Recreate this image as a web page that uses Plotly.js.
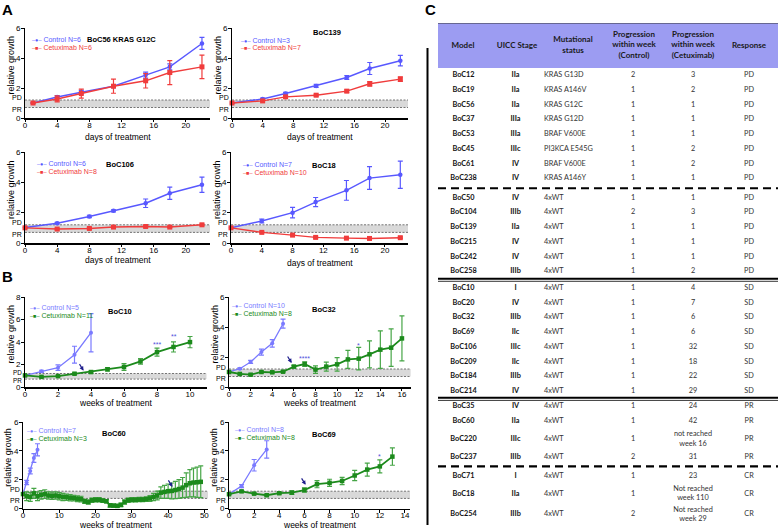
<!DOCTYPE html>
<html><head><meta charset="utf-8">
<script src="https://cdn.plot.ly/plotly-3.0.1.min.js"></script>
<style>html,body{margin:0;padding:0;background:#fff}#chart{width:778px;height:529px}</style>
</head><body><div id="chart"></div>
<script>
// ---------------- DATA ----------------
// Panel A
const days56 = [1, 4, 7, 11, 15, 18, 22];
const ctrl56 = [1.0, 1.4, 1.72, 2.12, 2.86, 3.41, 4.97];
const ctrl56Err = [0.03, 0.1, 0.12, 0.1, 0.2, 0.2, 0.4];
const cetux56 = [1.0, 1.27, 1.63, 2.12, 2.48, 3.03, 3.41];
const cetux56Err = [0.05, 0.2, 0.3, 0.47, 0.48, 0.8, 0.78];

const days139 = [0, 4, 7, 11, 15, 18, 22];
const ctrl139 = [1.0, 1.27, 1.63, 2.14, 2.7, 3.3, 3.82];
const ctrl139Err = [0.03, 0.06, 0.08, 0.1, 0.12, 0.4, 0.35];
const cetux139 = [1.0, 1.14, 1.41, 1.52, 1.79, 2.28, 2.59];
const cetux139Err = [0.03, 0.05, 0.08, 0.06, 0.08, 0.15, 0.15];

const days106 = [0, 4, 8, 11, 15, 18, 22];
const ctrl106 = [1.02, 1.3, 1.75, 2.12, 2.62, 3.28, 3.84];
const ctrl106Err = [0.03, 0.06, 0.08, 0.07, 0.28, 0.4, 0.5];
const cetux106 = [1.0, 0.92, 0.96, 1.05, 1.09, 1.05, 1.2];
const cetux106Err = [0.03, 0.05, 0.06, 0.06, 0.05, 0.04, 0.05];

const days18 = [0, 4, 8, 11, 15, 18, 22];
const ctrl18 = [1.0, 1.45, 2.0, 2.7, 3.47, 4.28, 4.5];
const ctrl18Err = [0.03, 0.12, 0.35, 0.3, 0.65, 0.75, 0.9];
const cetux18 = [1.0, 0.7, 0.52, 0.37, 0.32, 0.3, 0.35];
const cetux18Err = [0.02, 0.04, 0.04, 0.05, 0.04, 0.05, 0.05];

// Panel B
const wkCtrl10 = [0, 1, 2, 3, 4];
const ctrl10 = [1.03, 1.39, 1.72, 2.87, 4.83];
const ctrl10Err = [0.05, 0.1, 0.25, 0.75, 1.7];
const wkCetux10 = [0, 1, 2, 3, 4, 5, 6, 7, 8, 9, 10];
const cetux10 = [1.03, 0.9, 0.97, 1.18, 1.33, 1.57, 1.78, 2.27, 3.1, 3.56, 3.99];
const cetux10Err = [0.05, 0.05, 0.05, 0.08, 0.08, 0.15, 0.3, 0.25, 0.35, 0.45, 0.5];

const wkCtrl32 = [0, 1, 2, 3, 4, 5];
const ctrl32 = [1.0, 1.22, 1.67, 2.33, 2.91, 4.22];
const ctrl32Err = [0.03, 0.05, 0.1, 0.2, 0.25, 0.3];
const wkCetux32 = [0, 1, 2, 3, 4, 5, 6, 7, 8, 9, 10, 11, 12, 13, 14, 15, 16];
const cetux32 = [1.0, 0.87, 0.82, 1.0, 0.98, 1.02, 1.36, 1.53, 1.16, 1.36, 1.51, 1.84, 1.89, 2.18, 2.49, 2.62, 3.24];
const cetux32Err = [0.03, 0.04, 0.05, 0.06, 0.06, 0.05, 0.08, 0.15, 0.25, 0.3, 0.45, 0.6, 0.75, 0.9, 1.25, 1.25, 1.5];

const wkCtrl60 = [0, 1, 2, 3, 4];
const ctrl60 = [1.0, 1.8, 2.6, 3.5, 4.07];
const ctrl60Err = [0.05, 0.15, 0.2, 0.3, 0.42];
const wkCetux60 = [0, 1, 2, 3, 4, 5, 6, 7, 8, 9, 10, 11, 12, 13, 14, 15, 16, 17, 18, 19, 20, 21, 22, 23, 24, 25, 26, 27, 28, 29, 30, 31, 32, 33, 34, 35, 36, 37, 38, 39, 40, 41, 42, 43, 44, 45, 46, 47, 48, 49];
const cetux60 = [1.0, 0.85, 0.8, 1.05, 0.85, 0.95, 1.0, 0.9, 0.88, 0.9, 0.85, 0.8, 0.78, 0.75, 0.72, 0.68, 0.65, 0.5, 0.45, 0.58, 0.6, 0.6, 0.55, 0.5, 0.22, 0.2, 0.18, 0.25, 0.45, 0.58, 0.6, 0.6, 0.62, 0.62, 0.65, 0.7, 0.8, 0.9, 1.1, 1.15, 1.2, 1.22, 1.28, 1.35, 1.45, 1.62, 1.75, 1.8, 1.82, 1.85];
const cetux60Err = [0.05, 0.3, 0.3, 0.35, 0.3, 0.3, 0.3, 0.25, 0.25, 0.25, 0.25, 0.25, 0.22, 0.22, 0.2, 0.2, 0.2, 0.15, 0.15, 0.15, 0.15, 0.15, 0.12, 0.12, 0.12, 0.1, 0.1, 0.12, 0.15, 0.15, 0.15, 0.15, 0.15, 0.15, 0.15, 0.2, 0.25, 0.3, 0.4, 0.45, 0.5, 0.55, 0.6, 0.65, 0.7, 0.85, 0.95, 1.0, 1.05, 1.1];

const wkCtrl69 = [0, 1, 2, 3];
const ctrl69 = [1.0, 1.55, 3.0, 4.1];
const ctrl69Err = [0.03, 0.1, 0.4, 0.6];
const wkCetux69 = [0, 1, 2, 3, 4, 5, 6, 7, 8, 9, 10, 11, 12, 13];
const cetux69 = [0.99, 1.19, 1.03, 0.92, 1.06, 1.1, 1.28, 1.69, 1.78, 1.91, 2.29, 2.7, 2.92, 3.6];
const cetux69Err = [0.04, 0.05, 0.05, 0.06, 0.06, 0.12, 0.15, 0.25, 0.25, 0.25, 0.35, 0.45, 0.45, 0.6];

// RECIST thresholds
const PD_LEVEL = 1.2;
const PR_LEVEL = 0.7;

// significance marks and treatment-start arrows (panel B)
const sig10X = [8, 9], sig10Y = [3.8, 4.5], sig10Text = ['***', '**'];
const sig32X = [7, 12], sig32Y = [1.87, 2.8], sig32Text = ['****', '*'];
const sig69X = [12], sig69Y = [3.6], sig69Text = ['*'];
const arrowPanel = [5, 6, 7, 8];
const arrowX = [3.55, 5.8, 41.2, 6.1];
const arrowY = [1.45, 1.6, 1.5, 1.64];

// Panel C table
const tableHeaders = ['Model', 'UICC Stage', 'Mutational<br>status', 'Progression<br>within week<br>(Control)', 'Progression<br>within week<br>(Cetuximab)', 'Response'];
const models = ['BoC12','BoC19','BoC56','BoC37','BoC53','BoC45','BoC61','BoC238','BoC50','BoC104','BoC139','BoC215','BoC242','BoC258','BoC10','BoC20','BoC32','BoC69','BoC106','BoC209','BoC184','BoC214','BoC35','BoC60','BoC220','BoC237','BoC71','BoC18','BoC254'];
const stages = ['IIa','IIa','IIa','IIIa','IIIa','IIIc','IV','IV','IV','IIIb','IIa','IV','IV','IIIb','I','IV','IIIb','IIc','IIIc','IIc','IIIb','IV','IV','IIa','IIIc','IIIb','I','IIa','IIIb'];
const mutations = ['KRAS G13D','KRAS A146V','KRAS G12C','KRAS G12D','BRAF V600E','PI3KCA E545G','BRAF V600E','KRAS A146Y','4xWT','4xWT','4xWT','4xWT','4xWT','4xWT','4xWT','4xWT','4xWT','4xWT','4xWT','4xWT','4xWT','4xWT','4xWT','4xWT','4xWT','4xWT','4xWT','4xWT','4xWT'];
const progControl = ['2','1','1','1','1','1','1','1','1','2','1','1','1','1','1','1','1','1','1','1','1','1','1','1','1','2','1','1','2'];
const progCetux = ['3','2','1','1','1','2','2','1','1','3','1','1','1','2','4','7','6','6','32','18','22','29','24','42','not reached<br>week 16','31','23','Not reached<br>week 110','Not reached<br>week 29'];
const responses = ['PD','PD','PD','PD','PD','PD','PD','PD','PD','PD','PD','PD','PD','PD','SD','SD','SD','SD','SD','SD','SD','SD','PR','PR','PR','PR','CR','CR','CR'];
const groupEnds = [7, 13, 21, 25];
const groupSepStyle = ['dash', 'double', 'double', 'dash'];

// ---------------- LAYOUT HELPERS ----------------
const W = 778, H = 529;
const FONT = 'Liberation Sans, Arial, sans-serif';
const TFONT = 'Lato, Liberation Sans, sans-serif';
const BLUE_A = 'rgb(88,88,255)', RED_A = 'rgb(240,60,60)';
const BLUE_B = 'rgb(122,122,255)', GREEN_B = 'rgb(28,138,28)', GREEN_ERR = 'rgb(70,165,70)';

const panels = [
  {n:1, px:[25,210], py:[28,118], xr:[0,23], xd:4, yr:[0,6], xt:'days of treatment', xty:137,
   title:'BoC56 KRAS G12C', tpos:[85,39.5], leg:[30,39,47.2], ca:'A',
   cx:days56, cy:ctrl56, ce:ctrl56Err, tx:days56, ty:cetux56, te:cetux56Err, cl:'Control N=6', tl:'Cetuximab N=6'},
  {n:2, px:[232,408], py:[28,118], xr:[0,23], xd:4, yr:[0,6], xt:'days of treatment', xty:137,
   title:'BoC139', tpos:[311,32.7], leg:[239,40.3,48], ca:'A',
   cx:days139, cy:ctrl139, ce:ctrl139Err, tx:days139, ty:cetux139, te:cetux139Err, cl:'Control N=3', tl:'Cetuximab N=7'},
  {n:3, px:[25,210], py:[152,243], xr:[0,23], xd:4, yr:[0,6], xt:'days of treatment', xty:259.5,
   title:'BoC106', tpos:[104,164.3], leg:[35,163.8,171.6], ca:'A',
   cx:days106, cy:ctrl106, ce:ctrl106Err, tx:days106, ty:cetux106, te:cetux106Err, cl:'Control N=6', tl:'Cetuximab N=8'},
  {n:4, px:[231,408], py:[152,243], xr:[0,23], xd:4, yr:[0,6], xt:'days of treatment', xty:262.5,
   title:'BoC18', tpos:[310,165], leg:[240.5,164.3,172.1], ca:'A',
   cx:days18, cy:ctrl18, ce:ctrl18Err, tx:days18, ty:cetux18, te:cetux18Err, cl:'Control N=7', tl:'Cetuximab N=10'},
  {n:5, px:[25,206.5], py:[297,387], xr:[0,11], xd:2, yr:[0,8], xt:'weeks of treatment', xty:402.5,
   title:'BoC10', tpos:[106,311.7], leg:[28,307.6,315.4], ca:'B',
   cx:wkCtrl10, cy:ctrl10, ce:ctrl10Err, tx:wkCetux10, ty:cetux10, te:cetux10Err, cl:'Control N=5', tl:'Cetuximab N=11'},
  {n:6, px:[229,410.6], py:[297,387], xr:[0,16.8], xd:2, yr:[0,6], xt:'weeks of treatment', xty:402.5,
   title:'BoC32', tpos:[310,309.3], leg:[230,305.6,313.6], ca:'B',
   cx:wkCtrl32, cy:ctrl32, ce:ctrl32Err, tx:wkCetux32, ty:cetux32, te:cetux32Err, cl:'Control N=10', tl:'Cetuximab N=8'},
  {n:7, px:[23,208], py:[422,508.5], xr:[0,51], xd:10, yr:[0,6], xt:'weeks of treatment', xty:525,
   title:'BoC60', tpos:[100,433.3], leg:[25,430.2,438.4], ca:'B',
   cx:wkCtrl60, cy:ctrl60, ce:ctrl60Err, tx:wkCetux60, ty:cetux60, te:cetux60Err, cl:'Control N=7', tl:'Cetuximab N=3'},
  {n:8, px:[229,410], py:[422,508.5], xr:[0,14.4], xd:2, yr:[0,6], xt:'weeks of treatment', xty:525,
   title:'BoC69', tpos:[310,434], leg:[233,429.4,437.6], ca:'B',
   cx:wkCtrl69, cy:ctrl69, ce:ctrl69Err, tx:wkCetux69, ty:cetux69, te:cetux69Err, cl:'Control N=8', tl:'Cetuximab N=8'}
];

const traces = [];
const layout = {
  width: W, height: H, margin: {l:0, r:0, t:0, b:0},
  paper_bgcolor: '#fff', plot_bgcolor: 'rgba(0,0,0,0)',
  showlegend: false, font: {family: FONT, color: '#000'},
  shapes: [], annotations: []
};
const px2x = p => p / W;
const py2y = p => 1 - p / H;
const ann = o => layout.annotations.push(Object.assign({showarrow:false}, o));

panels.forEach(p => {
  const xa = 'xaxis' + p.n, ya = 'yaxis' + p.n;
  const xr = 'x' + p.n, yr = 'y' + p.n;
  const isA = p.ca === 'A';
  const cCol = isA ? BLUE_A : BLUE_B;
  const tCol = isA ? RED_A : GREEN_B;
  const tErr = isA ? RED_A : GREEN_ERR;
  const pxPerUnit = (p.py[1] - p.py[0]) / (p.yr[1] - p.yr[0]);
  const bandPx = (PD_LEVEL - PR_LEVEL) * pxPerUnit;
  const tight = bandPx < 7;
  layout[xa] = {
    domain: [px2x(p.px[0]), px2x(p.px[1])], range: p.xr, anchor: yr,
    tickmode: 'linear', tick0: 0, dtick: p.xd, ticks: 'outside', ticklen: 2.5, tickwidth: 1, tickcolor: '#000',
    ticklabelstandoff: -4,
    showline: true, linecolor: '#000', linewidth: 1.5, showgrid: false, zeroline: false,
    tickfont: {family: FONT, size: 8, color: '#000'}, automargin: false, fixedrange: true
  };
  layout[ya] = {
    domain: [py2y(p.py[1]), py2y(p.py[0])], range: p.yr, anchor: xr,
    tickmode: 'linear', tick0: 0, dtick: 2, ticks: 'outside', ticklen: 2.5, tickwidth: 1, tickcolor: '#000',
    ticklabelstandoff: -1,
    showline: true, linecolor: '#000', linewidth: 1.5, showgrid: false, zeroline: false,
    tickfont: {family: FONT, size: 8, color: '#000'}, automargin: false, fixedrange: true
  };
  // axis titles
  ann({xref:'paper', yref:'paper', x:px2x((p.px[0] + p.px[1]) / 2), y:py2y(p.xty), xanchor:'center', yanchor:'middle',
    text:p.xt, font:{family:FONT, size:8.5, color:'#000'}});
  ann({xref:'paper', yref:'paper', x:px2x(p.px[0] - 14.5), y:py2y((p.py[0] + p.py[1]) / 2 - 8), xanchor:'center', yanchor:'middle',
    textangle:-90, text:'relative growth', font:{family:FONT, size:9, color:'#000'}});
  // RECIST band
  layout.shapes.push({type:'rect', xref: xr + ' domain', x0:0, x1:1, yref: yr, y0: PR_LEVEL, y1: PD_LEVEL,
    fillcolor:'#d9d9d9', line:{width:0}, layer:'below'});
  [PD_LEVEL, PR_LEVEL].forEach(v => layout.shapes.push({type:'line', xref: xr + ' domain', x0:0, x1:1, yref: yr, y0:v, y1:v,
    line:{color:'#555', width:0.8, dash:'2px,1.5px'}, layer:'below'}));
  // PD / PR labels
  const spread = tight ? 1 : 1.5 + Math.max(0, (8.5 - bandPx) / 2);
  const lblSize = tight ? 6.3 : 7;
  ann({xref: xr + ' domain', x:0, xanchor:'right', xshift:-1.5, yref: yr, y: PD_LEVEL, yshift: spread,
    yanchor:'middle', text:'PD', font:{family:FONT, size:lblSize, color:'#000'}});
  ann({xref: xr + ' domain', x:0, xanchor:'right', xshift:-1.5, yref: yr, y: PR_LEVEL, yshift: -spread,
    yanchor:'middle', text:'PR', font:{family:FONT, size:lblSize, color:'#000'}});
  // series
  traces.push({type:'scatter', mode:'lines+markers', x:p.cx, y:p.cy, xaxis:xr, yaxis:yr, cliponaxis:false,
    line:{color:cCol, width: isA ? 1.4 : 1.3}, marker:{symbol:'circle', size: isA ? 4.5 : 4, color:cCol},
    error_y:{type:'data', array:p.ce, visible:true, color:cCol, thickness:1.2, width:2.5}, hoverinfo:'skip'});
  traces.push({type:'scatter', mode:'lines+markers', x:p.tx, y:p.ty, xaxis:xr, yaxis:yr, cliponaxis:false,
    line:{color:tCol, width: isA ? 1.4 : 1.8}, marker:{symbol:'square', size: isA ? 5 : 4.5, color:tCol},
    error_y:{type:'data', array:p.te, visible:true, color:tErr, thickness:1.2, width:2.5}, hoverinfo:'skip'});
  // subplot title
  ann({xref:'paper', yref:'paper', x:px2x(p.tpos[0]), y:py2y(p.tpos[1]), xanchor:'left', yanchor:'middle',
    text:'<b>' + p.title + '</b>', font:{family:FONT, size:7.5, color:'#000'}});
  // legend entries
  [[p.cl, cCol, '●', p.leg[1]], [p.tl, tCol, '■', p.leg[2]]].forEach(e => {
    ann({xref:'paper', yref:'paper', x:px2x(p.leg[0]), y:py2y(e[3]), xanchor:'left', yanchor:'middle',
      text:'<span style="font-size:5.5px">–' + e[2] + '–</span> ' + e[0],
      font:{family:FONT, size:7, color:e[1]}});
  });
});

// significance marks
[[5, sig10X, sig10Y, sig10Text], [6, sig32X, sig32Y, sig32Text], [8, sig69X, sig69Y, sig69Text]].forEach(s => {
  s[1].forEach((xv, i) => ann({xref:'x' + s[0], yref:'y' + s[0], x:xv, y:s[2][i], text:s[3][i],
    font:{family:FONT, size:7, color:'rgb(80,80,220)'}}));
});
// treatment start arrows
arrowPanel.forEach((n, i) => layout.annotations.push({xref:'x' + n, yref:'y' + n, x:arrowX[i], y:arrowY[i], text:'',
  showarrow:true, arrowhead:2, arrowsize:0.7, arrowwidth:1.2, arrowcolor:'rgb(30,30,140)', ax:-5, ay:-8, standoff:0}));

// panel letters
[['A',7,10],['B',8,276],['C',430,10]].forEach(l => ann({xref:'paper', yref:'paper',
  x:px2x(l[1]), y:py2y(l[2]), text:'<b>' + l[0] + '</b>', xanchor:'center', yanchor:'middle',
  font:{family:FONT, size:15, color:'#000'}}));

// ---------------- TABLE (panel C) ----------------
const TX0 = 438, TX1 = 778, TY0 = 23, TY1 = 524;
const HEADER_H = 45, ROW_H = 14.75, ROW2_H = 20.75;
const GAP = {dash: 4.5, double: 1.8};
const rowCenters = [], seps = [];
let cursor = HEADER_H;
models.forEach((m, i) => {
  const lines = Math.max(...[progCetux[i], mutations[i]].map(t => t.split('<br>').length));
  const h = lines > 1 ? ROW2_H : ROW_H;
  rowCenters.push(cursor + h / 2);
  cursor += h;
  const g = groupEnds.indexOf(i);
  if (g >= 0) {
    const st = groupSepStyle[g];
    const gap = (g === 2) ? 0.4 : GAP[st];
    seps.push({y: cursor + gap / 2, style: st});
    cursor += gap;
  }
});
const tableEnd = cursor;
layout.xaxis9 = {domain:[px2x(TX0), px2x(TX1)], range:[0, TX1 - TX0], visible:false, fixedrange:true, anchor:'y9'};
layout.yaxis9 = {domain:[py2y(TY1), py2y(TY0)], range:[TY1 - TY0, 0], visible:false, fixedrange:true, anchor:'x9'};

const colX = [25.5, 77.5, 106, 195, 255, 311];
const headerX = [25, 79, 135, 196, 255, 311];
layout.shapes.push({type:'rect', xref:'x9', yref:'y9', x0:0, x1:TX1 - TX0, y0:0, y1:HEADER_H, fillcolor:'rgb(156,156,242)', line:{width:0}, layer:'below'});
layout.shapes.push({type:'line', xref:'x9', yref:'y9', x0:0, x1:TX1 - TX0, y0:0, y1:0, line:{color:'#333', width:1}});
layout.shapes.push({type:'line', xref:'x9', yref:'y9', x0:0, x1:TX1 - TX0, y0:tableEnd, y1:tableEnd, line:{color:'#000', width:1}});
seps.forEach(s => {
  if (s.style === 'dash') {
    layout.shapes.push({type:'line', xref:'x9', yref:'y9', x0:0, x1:TX1 - TX0, y0:s.y, y1:s.y, line:{color:'#000', width:2.2, dash:'8px,5px'}});
  } else {
    layout.shapes.push({type:'line', xref:'x9', yref:'y9', x0:0, x1:TX1 - TX0, y0:s.y - 1.2, y1:s.y - 1.2, line:{color:'#000', width:2}});
    layout.shapes.push({type:'line', xref:'x9', yref:'y9', x0:0, x1:TX1 - TX0, y0:s.y + 1.4, y1:s.y + 1.4, line:{color:'#000', width:0.8}});
  }
});
layout.shapes.push({type:'line', xref:'paper', yref:'paper', x0:px2x(427.5), x1:px2x(427.5), y0:py2y(48), y1:py2y(525), line:{color:'#000', width:2}});

traces.push({type:'scatter', mode:'text', xaxis:'x9', yaxis:'y9', x:headerX, y:headerX.map(() => HEADER_H / 2),
  text:tableHeaders.map(t => '<b>' + t + '</b>'), textposition:'middle center', cliponaxis:false, hoverinfo:'skip',
  textfont:{family:TFONT, size:8, color:'#1a1a1a'}});
const cols = [
  {vals: models.map(v => '<b>' + v + '</b>'), x: colX[0], pos:'middle center', color:'#111'},
  {vals: stages.map(v => '<b>' + v + '</b>'), x: colX[1], pos:'middle center', color:'#111'},
  {vals: mutations, x: colX[2], pos:'middle right', color:'#333'},
  {vals: progControl, x: colX[3], pos:'middle center', color:'#333'},
  {vals: progCetux, x: colX[4], pos:'middle center', color:'#333'},
  {vals: responses, x: colX[5], pos:'middle center', color:'#333'}
];
cols.forEach(c => traces.push({type:'scatter', mode:'text', xaxis:'x9', yaxis:'y9',
  x: c.vals.map(() => c.x), y: rowCenters, text: c.vals, textposition: c.pos, cliponaxis:false, hoverinfo:'skip',
  textfont:{family:TFONT, size:7.3, color:c.color}}));

Plotly.newPlot('chart', traces, layout, {staticPlot:true, displayModeBar:false});
</script></body></html>
